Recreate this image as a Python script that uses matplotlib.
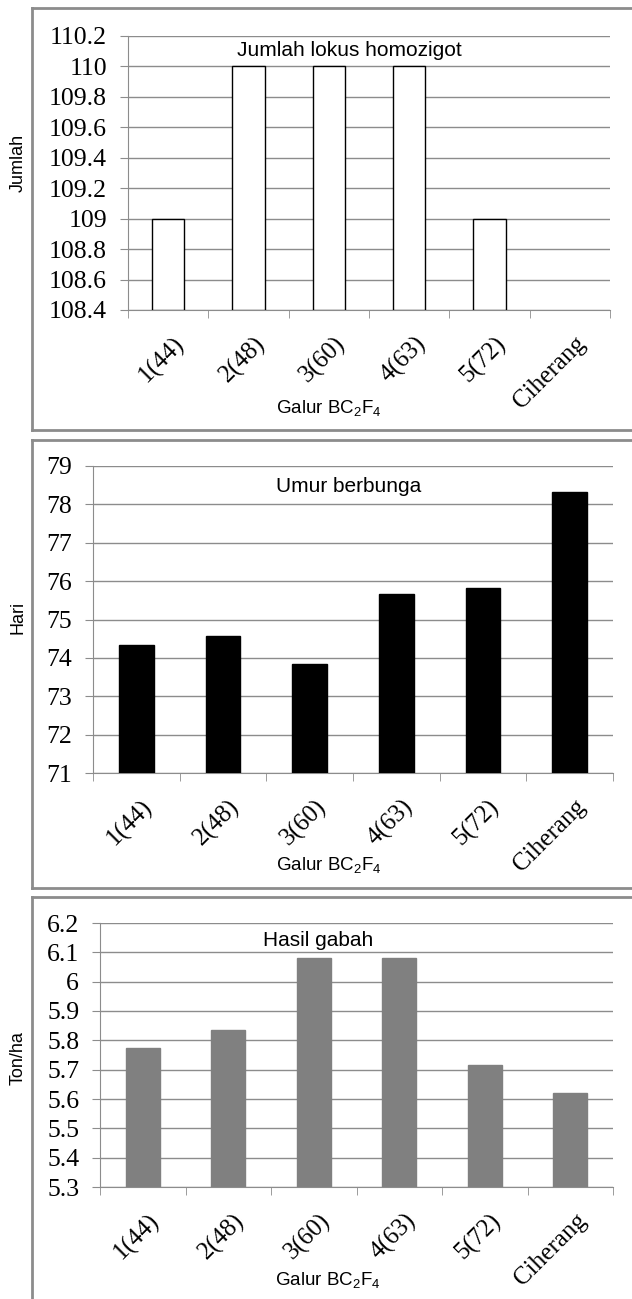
import numpy as np
import matplotlib
matplotlib.use('Agg')
import matplotlib.pyplot as plt
import matplotlib.transforms as mtransforms
from matplotlib.lines import Line2D

plt.rcParams['mathtext.fontset'] = 'custom'
plt.rcParams['mathtext.rm'] = 'Liberation Sans'
plt.rcParams['mathtext.it'] = 'Liberation Sans:italic'

categories = ['1(44)', '2(48)', '3(60)', '4(63)', '5(72)', 'Ciherang']
homozigot = [109, 110, 110, 110, 109, np.nan]
umur_berbunga = [74.33, 74.58, 73.83, 75.67, 75.83, 78.33]
hasil_gabah = [5.775, 5.835, 6.08, 6.08, 5.715, 5.62]

W, H = 632, 1299
fig = plt.figure(figsize=(W / 100, H / 100), dpi=100)


def fx(x):
    return x / W


def fy(y):
    return 1 - y / H


def border(top, bottom, left=32):
    c = '#8c8c8c'
    fig.add_artist(Line2D([fx(left), fx(W + 5)], [fy(top), fy(top)], color=c, lw=2))
    fig.add_artist(Line2D([fx(left), fx(left)], [fy(top), fy(bottom)], color=c, lw=2))
    if bottom < H:
        fig.add_artist(Line2D([fx(left), fx(W + 5)], [fy(bottom), fy(bottom)], color=c, lw=2))


def panel(left, right, top, bottom, values, ymin, ymax, step, fmt, face, edge):
    ax = fig.add_axes([fx(left), fy(bottom), fx(right - left), (bottom - top) / H])
    x = np.arange(len(categories))
    ax.bar(x, np.array(values) - ymin, bottom=ymin, width=0.4, color=face,
           edgecolor=edge, linewidth=1, zorder=3)
    ax.set_xlim(-0.5, len(categories) - 0.5)
    ax.set_ylim(ymin, ymax)
    yt = np.round(np.arange(ymin, ymax + step / 2, step), 4)
    ax.set_yticks(yt)
    ax.set_yticklabels([fmt(v) for v in yt], fontfamily='Liberation Serif', fontsize=18.5)
    ax.yaxis.grid(True, color='#8c8c8c', lw=1, zorder=0)
    ax.set_axisbelow(True)
    for s in ['top', 'right']:
        ax.spines[s].set_visible(False)
    for s in ['left', 'bottom']:
        ax.spines[s].set_color('#8c8c8c')
    ax.tick_params(axis='y', direction='out', length=6, color='#8c8c8c', pad=9)
    ax.set_xticks(x)
    ax.set_xticks(np.arange(-0.5, len(categories)), minor=True)
    ax.tick_params(axis='x', which='major', length=0, pad=16)
    ax.tick_params(axis='x', which='minor', direction='out', length=6, color='#8c8c8c')
    ax.set_xticklabels(categories, rotation=45, ha='right', va='top',
                       rotation_mode='anchor', fontfamily='Liberation Serif', fontsize=18)
    off = mtransforms.ScaledTranslation(5 / 100, 0, fig.dpi_scale_trans)
    for lab in ax.get_xticklabels():
        lab.set_transform(lab.get_transform() + off)
    return ax


def fmt_g(v):
    return ('%.1f' % v).rstrip('0').rstrip('.')


# panel 1
border(8, 430)
panel(128, 610, 36, 310, homozigot, 108.4, 110.2, 0.2, fmt_g, 'white', 'black')
fig.text(fx(349), fy(50), 'Jumlah lokus homozigot', ha='center', va='center',
         fontfamily='Liberation Sans', fontsize=15)
fig.text(fx(18), fy(163), 'Jumlah', rotation=90, ha='center', va='center',
         fontfamily='Liberation Sans', fontsize=13)
fig.text(fx(329), fy(408), 'Galur BC$_2$F$_4$', ha='center', va='center',
         fontfamily='Liberation Sans', fontsize=13.5)

# panel 2
border(440, 888)
panel(93, 613, 466, 773, umur_berbunga, 71, 79, 1, lambda v: '%d' % v, 'black', 'black')
fig.text(fx(349), fy(487), 'Umur berbunga', ha='center', va='center',
         fontfamily='Liberation Sans', fontsize=15)
fig.text(fx(18), fy(617), 'Hari', rotation=90, ha='center', va='center',
         fontfamily='Liberation Sans', fontsize=13)
fig.text(fx(329), fy(865), 'Galur BC$_2$F$_4$', ha='center', va='center',
         fontfamily='Liberation Sans', fontsize=13.5)

# panel 3
border(897, H + 10)
panel(100, 613, 923, 1187, hasil_gabah, 5.3, 6.2, 0.1, fmt_g, '#808080', '#808080')
fig.text(fx(318), fy(940), 'Hasil gabah', ha='center', va='center',
         fontfamily='Liberation Sans', fontsize=15)
fig.text(fx(18), fy(1058), 'Ton/ha', rotation=90, ha='center', va='center',
         fontfamily='Liberation Sans', fontsize=13)
fig.text(fx(328), fy(1280), 'Galur BC$_2$F$_4$', ha='center', va='center',
         fontfamily='Liberation Sans', fontsize=13.5)

fig.savefig('out.png', dpi=100)
